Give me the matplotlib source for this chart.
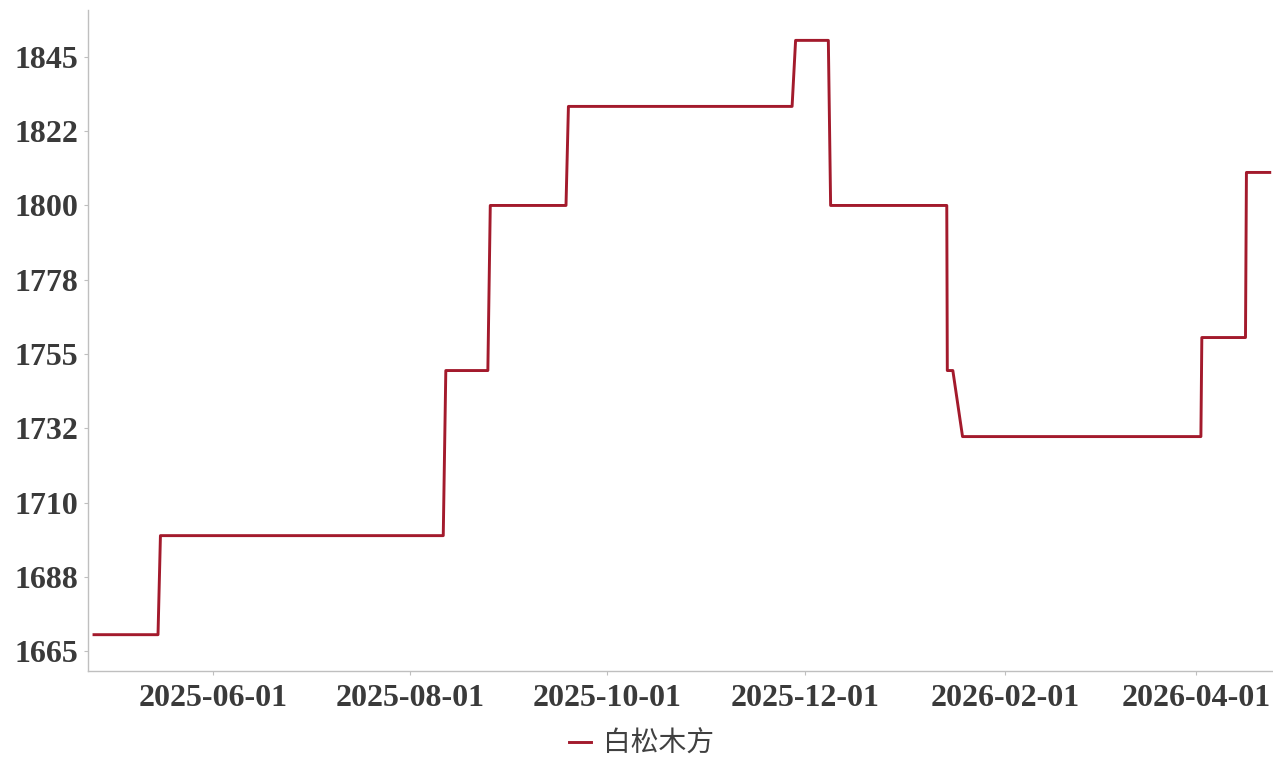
import matplotlib
matplotlib.use("Agg")
import matplotlib.pyplot as plt
import matplotlib.dates as mdates
import pandas as pd
from matplotlib.ticker import FixedLocator, FuncFormatter

# Vertices of the price line
dates = ["2025-04-25 05:00", "2025-05-15 00:00", "2025-05-15 18:00",
         "2025-08-11 05:00", "2025-08-12 00:00", "2025-08-25 00:00",
         "2025-08-25 18:00", "2025-09-18 04:00", "2025-09-18 22:00",
         "2025-11-27 02:00", "2025-11-28 04:00", "2025-12-08 07:00",
         "2025-12-09 00:00", "2026-01-13 22:00", "2026-01-14 02:00",
         "2026-01-15 19:00", "2026-01-18 19:00", "2026-04-02 12:00",
         "2026-04-02 19:00", "2026-04-16 07:00", "2026-04-16 14:00",
         "2026-04-23 19:00"]
values = [1670, 1670, 1700,
          1700, 1750, 1750,
          1800, 1800, 1830,
          1830, 1850, 1850,
          1800, 1800, 1750,
          1750, 1730, 1730,
          1760, 1760, 1810,
          1810]
series_name = "白松木方"
xtick_labels = ["2025-06-01", "2025-08-01", "2025-10-01", "2025-12-01",
                "2026-02-01", "2026-04-01"]
ytick_values = [1665, 1687.5, 1710, 1732.5, 1755, 1777.5, 1800, 1822.5, 1845]

x = pd.to_datetime(dates)

fig = plt.figure(figsize=(12.73, 7.61), dpi=100)
ax = fig.add_axes([88/1273, 1-671/761, 1-88/1273, (671-10)/761])

line_color = "#A31A2C"
ax.plot(x, values, color=line_color, lw=2.1, label=series_name)

ref = pd.Timestamp("2025-06-01")
ax.set_xlim(ref - pd.Timedelta(days=38.65), ref + pd.Timedelta(days=327.8))
ax.set_ylim(1659, 1859.2)

ax.xaxis.set_major_locator(FixedLocator(mdates.date2num(pd.to_datetime(xtick_labels))))
ax.xaxis.set_major_formatter(FuncFormatter(lambda v, p: mdates.num2date(v).strftime("%Y-%m-%d")))
ax.yaxis.set_major_locator(FixedLocator(ytick_values))
ax.yaxis.set_major_formatter(FuncFormatter(lambda v, p: "%d" % round(v)))

for s in ["top", "right"]:
    ax.spines[s].set_visible(False)
for s in ["left", "bottom"]:
    ax.spines[s].set_color("#BFBFBF")
    ax.spines[s].set_linewidth(1.0)

ax.tick_params(axis="both", colors="#BFBFBF", labelcolor="#3A3A3A", length=3, width=0.8)
ax.tick_params(axis="y", pad=4)
ax.tick_params(axis="x", pad=6)
for lbl in ax.get_xticklabels() + ax.get_yticklabels():
    lbl.set_fontfamily("Liberation Serif")
    lbl.set_fontweight("bold")
    lbl.set_fontsize(23)

leg = fig.legend(loc="lower center", bbox_to_anchor=(0.504, -0.022), frameon=False,
                 handlelength=0.8, handletextpad=0.45, borderaxespad=0.3,
                 prop={"family": ["Noto Sans CJK SC", "DejaVu Sans"], "size": 20})
for t in leg.get_texts():
    t.set_color("#404040")

fig.savefig("out.png", dpi=100)
